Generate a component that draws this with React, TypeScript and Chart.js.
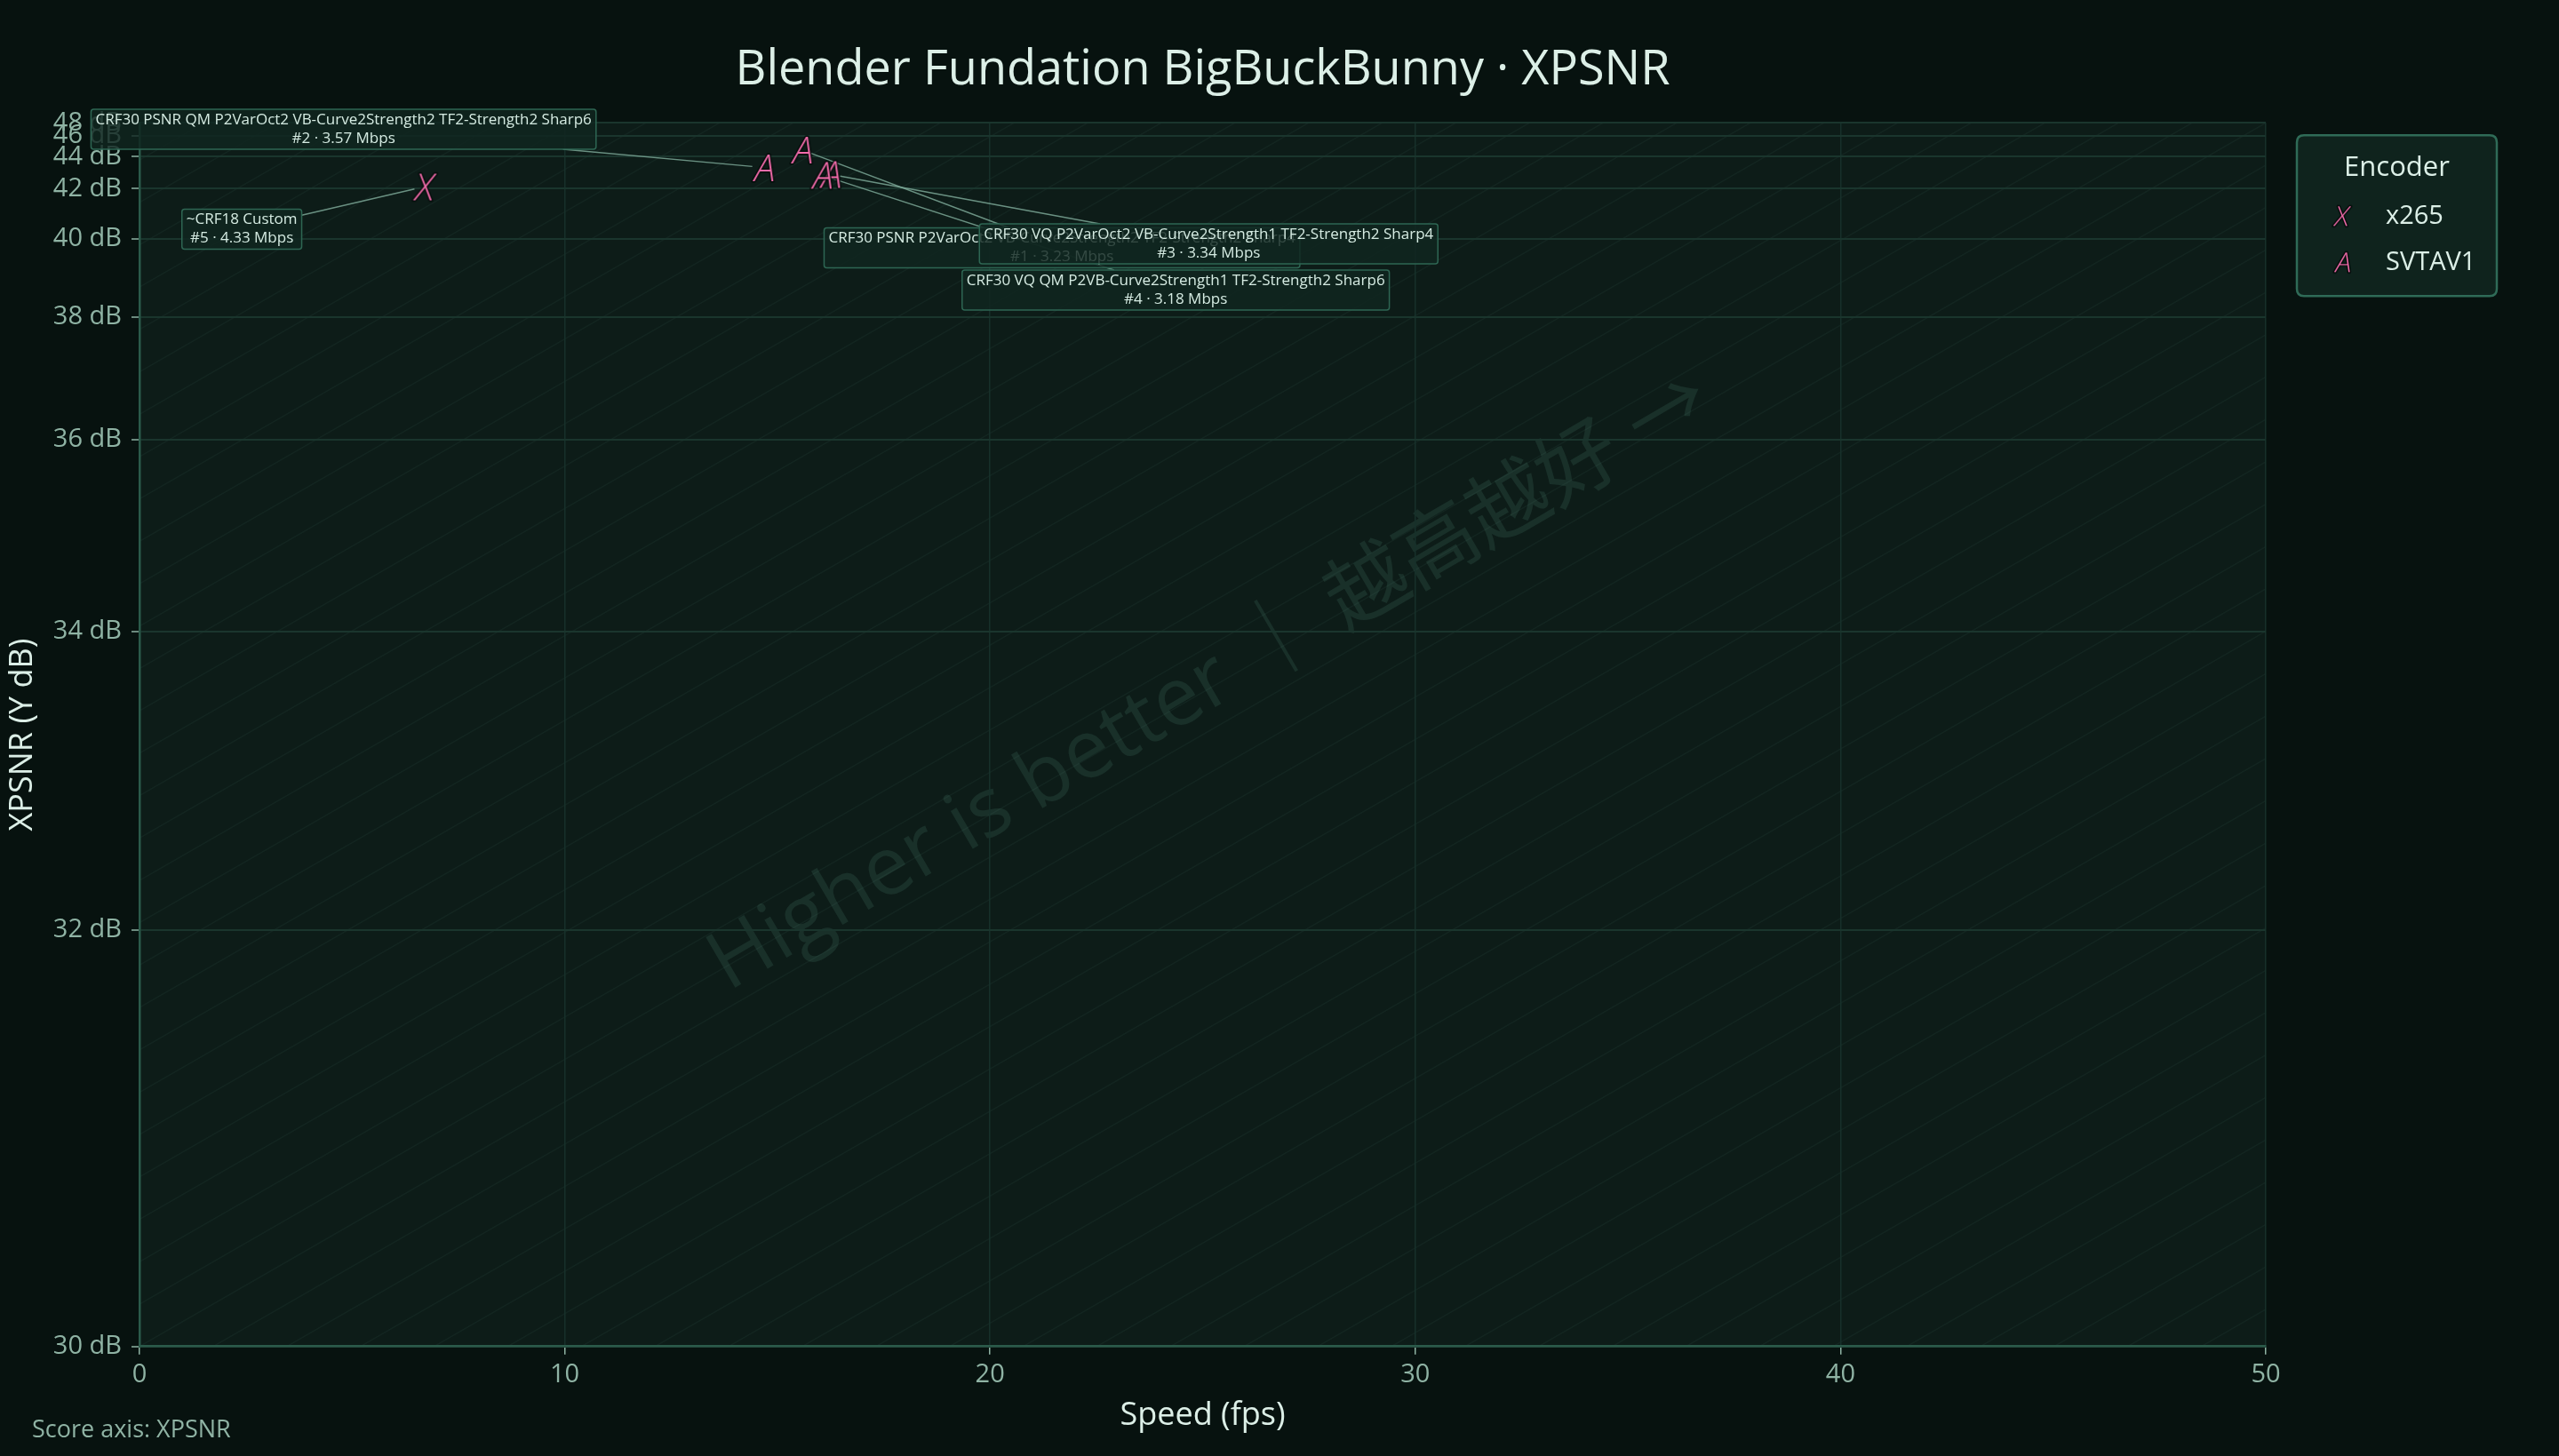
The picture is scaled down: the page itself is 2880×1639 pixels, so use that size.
import { useEffect, useRef } from 'react';
import { Chart, registerables } from 'chart.js';

Chart.register(...registerables);

// ---------------- data ----------------
const TITLE = 'Blender Fundation BigBuckBunny · XPSNR';
const X_TITLE = 'Speed (fps)';
const Y_TITLE = 'XPSNR (Y dB)';
const FOOTNOTE = 'Score axis: XPSNR';
const WATERMARK = 'Higher is better ｜ 越高越好 →';
const LEGEND_TITLE = 'Encoder';

const encoders = ['x265', 'SVTAV1'];
const encoderGlyphs = ['X', 'A'];

const configRanks = [1, 2, 3, 4, 5];
const configNames = [
  'CRF30 PSNR P2VarOct2 VB-Curve2Strength2 TF2-Strength2 Sharp4',
  'CRF30 PSNR QM P2VarOct2 VB-Curve2Strength2 TF2-Strength2 Sharp6',
  'CRF30 VQ P2VarOct2 VB-Curve2Strength1 TF2-Strength2 Sharp4',
  'CRF30 VQ QM P2VB-Curve2Strength1 TF2-Strength2 Sharp6',
  '~CRF18 Custom',
];
const configEncoders = ['SVTAV1', 'SVTAV1', 'SVTAV1', 'SVTAV1', 'x265'];
const speedFps = [15.56, 14.66, 16.23, 16.03, 6.71];
const xpsnrDb = [44.58, 43.22, 42.8, 42.75, 42.11];
const bitrateMbps = [3.23, 3.57, 3.34, 3.18, 4.33];

const xTickValues = [0, 10, 20, 30, 40, 50];
const yTickValuesDb = [30, 32, 34, 36, 38, 40, 42, 44, 46, 48];
const yAxisMinDb = 30.18;
const yAxisMaxDb = 48;

// ---------------- style ----------------
// label box centre offsets (px) from each marker, in rank order
const labelOffsetsPx: Array<[number, number]> = [
  [293.5, 110.5],
  [-472, -43],
  [426.5, 78.5],
  [399, 129.5],
  [-206, 48],
];

const PAGE_BG = '#07120f';
const PLOT_BG = '#0d1c18';
const PINK = '#f26cab';
const TEXT = '#dcefe7';
const TICK_TEXT = '#8fb3a4';
const FONT = '"Open Sans", "Noto Sans", "Noto Sans CJK SC", sans-serif';

// exponential (MSE-like) score axis
const BASE = 0.8;
const toAxis = (db: number) => -Math.pow(BASE, db) * 1e4;
const fromAxis = (v: number) => Math.log(-v / 1e4) / Math.log(BASE);

function drawGlyph(c: HTMLCanvasElement, ch: string, size: number) {
  const ctx = c.getContext('2d')!;
  ctx.clearRect(0, 0, c.width, c.height);
  ctx.font = `italic 300 ${size}px ${FONT}`;
  ctx.textAlign = 'left';
  ctx.textBaseline = 'alphabetic';
  const m = ctx.measureText(ch);
  const L = m.actualBoundingBoxLeft;
  const R = m.actualBoundingBoxRight;
  const A = m.actualBoundingBoxAscent;
  const D = m.actualBoundingBoxDescent;
  const x = c.width / 2 - (R - L) / 2;
  const y = c.height / 2 + (A - D) / 2;
  ctx.lineJoin = 'round';
  ctx.lineWidth = 3;
  ctx.strokeStyle = 'rgba(4,12,10,0.9)';
  ctx.strokeText(ch, x, y);
  ctx.fillStyle = PINK;
  ctx.fillText(ch, x, y);
}

function makeGlyph(ch: string, size: number) {
  const c = document.createElement('canvas');
  const dim = Math.ceil(size * 1.5);
  c.width = dim;
  c.height = dim;
  drawGlyph(c, ch, size);
  return c;
}

function roundRect(ctx: CanvasRenderingContext2D, x: number, y: number, w: number, h: number, r: number) {
  ctx.beginPath();
  ctx.moveTo(x + r, y);
  ctx.lineTo(x + w - r, y);
  ctx.quadraticCurveTo(x + w, y, x + w, y + r);
  ctx.lineTo(x + w, y + h - r);
  ctx.quadraticCurveTo(x + w, y + h, x + w - r, y + h);
  ctx.lineTo(x + r, y + h);
  ctx.quadraticCurveTo(x, y + h, x, y + h - r);
  ctx.lineTo(x, y + r);
  ctx.quadraticCurveTo(x, y, x + r, y);
  ctx.closePath();
}

const MARKER_SIZE = 42;
const LEGEND_GLYPH_SIZE = 32;

export default function App() {
  const ref = useRef<HTMLCanvasElement | null>(null);

  useEffect(() => {
    document.body.style.margin = '0';
    document.body.style.background = PAGE_BG;
    document.body.style.overflow = 'hidden';
    const canvas = ref.current!;

    const markerGlyphs = encoderGlyphs.map((g) => makeGlyph(g, MARKER_SIZE));
    const legendGlyphs = encoderGlyphs.map((g) => makeGlyph(g, LEGEND_GLYPH_SIZE));

    const LABEL_FONT = `17px ${FONT}`;

    const labelGeometry = (chart: any) => {
      const xs = chart.scales.x;
      const ys = chart.scales.y;
      const ctx = chart.ctx as CanvasRenderingContext2D;
      ctx.save();
      ctx.font = LABEL_FONT;
      const out = configRanks.map((rank, k) => {
        const px = xs.getPixelForValue(speedFps[k]);
        const py = ys.getPixelForValue(toAxis(xpsnrDb[k]));
        const [dx, dy] = labelOffsetsPx[k];
        const l1 = configNames[k];
        const l2 = `#${rank} · ${bitrateMbps[k].toFixed(2)} Mbps`;
        const w = Math.max(ctx.measureText(l1).width, ctx.measureText(l2).width) + 10;
        const h = 45;
        return { px, py, cx: px + dx, cy: py + dy, w, h, l1, l2 };
      });
      ctx.restore();
      return out;
    };

    const bgPlugin = {
      id: 'bgPlugin',
      beforeDraw(chart: any) {
        const { ctx, chartArea: a, width, height } = chart;
        ctx.save();
        ctx.fillStyle = PAGE_BG;
        ctx.fillRect(0, 0, width, height);
        ctx.fillStyle = PLOT_BG;
        ctx.fillRect(a.left, a.top, a.right - a.left, a.bottom - a.top);
        // hatch
        ctx.beginPath();
        ctx.rect(a.left, a.top, a.right - a.left, a.bottom - a.top);
        ctx.clip();
        const w = a.right - a.left;
        const h = a.bottom - a.top;
        const slope = h / w;
        const step = 47.7;
        ctx.strokeStyle = 'rgba(140,225,195,0.05)';
        ctx.lineWidth = 1.5;
        ctx.beginPath();
        const kMin = -Math.ceil((w * slope) / step) - 1;
        const kMax = Math.ceil(h / step) + 1;
        for (let k = kMin; k <= kMax; k++) {
          const y0 = a.bottom - k * step;
          ctx.moveTo(a.left, y0);
          ctx.lineTo(a.right, y0 - slope * w);
        }
        ctx.stroke();
        // watermark
        ctx.translate(a.left + 0.277 * w, a.top + 0.71 * h);
        ctx.rotate((-30.3 * Math.PI) / 180);
        ctx.font = `92px ${FONT}`;
        ctx.fillStyle = 'rgba(140,225,195,0.1)';
        ctx.textAlign = 'left';
        ctx.textBaseline = 'alphabetic';
        ctx.fillText(WATERMARK, 0, 0);
        ctx.restore();
      },
      beforeDatasetsDraw(chart: any) {
        const ctx = chart.ctx as CanvasRenderingContext2D;
        const geo = labelGeometry(chart);
        ctx.save();
        ctx.strokeStyle = 'rgba(130,175,158,0.8)';
        ctx.lineWidth = 1.5;
        geo.forEach((g) => {
          const dx = g.cx - g.px;
          const dy = g.cy - g.py;
          const len = Math.hypot(dx, dy);
          const s = Math.min(g.w / 2 / Math.abs(dx || 1e-9), g.h / 2 / Math.abs(dy || 1e-9));
          const ex = g.cx - dx * s;
          const ey = g.cy - dy * s;
          const gap = 12;
          ctx.beginPath();
          ctx.moveTo(g.px + (dx / len) * gap, g.py + (dy / len) * gap);
          ctx.lineTo(ex, ey);
          ctx.stroke();
        });
        ctx.restore();
      },
      afterDatasetsDraw(chart: any) {
        const ctx = chart.ctx as CanvasRenderingContext2D;
        const geo = labelGeometry(chart);
        ctx.save();
        ctx.font = LABEL_FONT;
        geo.forEach((g) => {
          roundRect(ctx, g.cx - g.w / 2, g.cy - g.h / 2, g.w, g.h, 3);
          ctx.fillStyle = 'rgba(16,38,32,0.82)';
          ctx.fill();
          ctx.strokeStyle = '#2e6653';
          ctx.lineWidth = 1.5;
          ctx.stroke();
          ctx.fillStyle = '#d5ebe2';
          ctx.textAlign = 'center';
          ctx.textBaseline = 'middle';
          ctx.fillText(g.l1, g.cx, g.cy - 10.5);
          ctx.fillText(g.l2, g.cx, g.cy + 10.5);
        });
        ctx.restore();
      },
      afterDraw(chart: any) {
        const { ctx, chartArea: a } = chart;
        ctx.save();
        // title
        ctx.fillStyle = TEXT;
        ctx.font = `54px ${FONT}`;
        ctx.textAlign = 'center';
        ctx.textBaseline = 'alphabetic';
        ctx.fillText(TITLE, (a.left + a.right) / 2, 95);
        // footnote
        ctx.fillStyle = TICK_TEXT;
        ctx.font = `27px ${FONT}`;
        ctx.textAlign = 'left';
        ctx.textBaseline = 'middle';
        ctx.fillText(FOOTNOTE, 36, 1610);
        // legend
        const lx = a.right + 35;
        const ly = a.top + 14;
        const lw = 225;
        const lh = 181;
        roundRect(ctx, lx, ly, lw, lh, 8);
        ctx.fillStyle = '#0f231d';
        ctx.fill();
        ctx.strokeStyle = '#2f6b57';
        ctx.lineWidth = 2.5;
        ctx.stroke();
        ctx.fillStyle = TEXT;
        ctx.font = `31px ${FONT}`;
        ctx.textAlign = 'center';
        ctx.textBaseline = 'middle';
        ctx.fillText(LEGEND_TITLE, lx + lw / 2, ly + 37);
        encoders.forEach((enc, i) => {
          const cy = ly + 91 + i * 52;
          const gc = legendGlyphs[i];
          ctx.drawImage(gc, lx + 51 - gc.width / 2, cy - gc.height / 2);
          ctx.fillStyle = TEXT;
          ctx.font = `29px ${FONT}`;
          ctx.textAlign = 'left';
          ctx.fillText(enc, lx + 100, cy);
        });
        ctx.restore();
      },
    };

    const chart = new Chart(canvas, {
      type: 'scatter',
      data: {
        datasets: encoders.map((enc, i) => ({
          label: enc,
          data: configRanks
            .map((_, k) => k)
            .filter((k) => configEncoders[k] === enc)
            .map((k) => ({ x: speedFps[k], y: toAxis(xpsnrDb[k]) })),
          pointStyle: markerGlyphs[i] as any,
          pointRadius: 20,
          pointHoverRadius: 20,
          backgroundColor: PINK,
          borderColor: PINK,
        })),
      },
      options: {
        responsive: false,
        animation: false,
        devicePixelRatio: 1,
        events: [],
        layout: { padding: { left: 0, right: 330, top: 138.3, bottom: 0 } },
        plugins: {
          legend: { display: false },
          title: { display: false },
          tooltip: { enabled: false },
        },
        scales: {
          x: {
            type: 'linear',
            position: 'bottom',
            min: 0,
            max: 50,
            afterBuildTicks: (s: any) => {
              s.ticks = xTickValues.map((v) => ({ value: v }));
            },
            afterFit: (s: any) => {
              s.height = 123.3;
            },
            ticks: {
              autoSkip: false,
              maxRotation: 0,
              padding: 6,
              color: TICK_TEXT,
              font: { family: FONT, size: 29 },
              callback: (v: any) => String(v),
            },
            grid: { color: '#17302a', lineWidth: 1.5, tickLength: 9, tickColor: TICK_TEXT, tickWidth: 1.5 },
            border: { color: '#2b5a4a', width: 2.5 },
            title: {
              display: true,
              text: X_TITLE,
              color: TEXT,
              font: { family: FONT, size: 36 },
              padding: { top: 0, bottom: 24 },
            },
          },
          y: {
            type: 'linear',
            position: 'left',
            min: toAxis(yAxisMinDb),
            max: toAxis(yAxisMaxDb),
            afterBuildTicks: (s: any) => {
              s.ticks = yTickValuesDb.map((d) => ({ value: toAxis(Math.max(d, yAxisMinDb)) }));
            },
            afterFit: (s: any) => {
              s.width = 157;
            },
            ticks: {
              autoSkip: false,
              padding: 11,
              color: TICK_TEXT,
              font: { family: FONT, size: 29 },
              callback: (v: any) => `${Math.round(fromAxis(Number(v)))} dB`,
            },
            grid: { color: '#1a352d', lineWidth: 2, tickLength: 9, tickColor: TICK_TEXT, tickWidth: 1.5 },
            border: { color: '#2b5a4a', width: 2.5 },
            title: {
              display: true,
              text: Y_TITLE,
              color: TEXT,
              font: { family: FONT, size: 36 },
              padding: { top: 4, bottom: 0 },
            },
          },
        },
      } as any,
      plugins: [bgPlugin as any],
    });

    let alive = true;
    Promise.all([
      document.fonts.load(`40px "Open Sans"`),
      document.fonts.load(`italic 300 40px "Open Sans"`),
    ])
      .catch(() => null)
      .then(() => {
        if (!alive) return;
        markerGlyphs.forEach((c, i) => drawGlyph(c, encoderGlyphs[i], MARKER_SIZE));
        legendGlyphs.forEach((c, i) => drawGlyph(c, encoderGlyphs[i], LEGEND_GLYPH_SIZE));
        chart.update('none');
      });

    return () => {
      alive = false;
      chart.destroy();
    };
  }, []);

  return <canvas ref={ref} width={2880} height={1639} style={{ display: 'block', width: 2880, height: 1639 }} />;
}
